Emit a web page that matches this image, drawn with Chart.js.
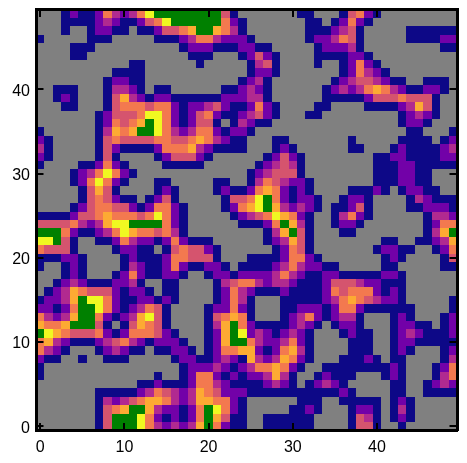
<!DOCTYPE html>
<html><head><meta charset="utf-8">
<style>html,body{margin:0;padding:0;background:#fff}canvas{display:block}</style>
<script src="https://cdn.jsdelivr.net/npm/chart.js@4"></script>
</head><body>
<div style="width:467px;height:463px"><canvas id="c" width="467" height="463"></canvas></div>
<script>
// Level codes per cell, top row is y = 49, left column is x = 0
const rows = [
"GGGnp nnpom pmoyg ggggg ggrnG GGGGG GnnGG Gnrop nGGGG GGGGG",
"GGGnn nnpmp nnpro ygggg ggopn GGGGG GGnnG npopn GGGGG GGGGG",
"GGGnG Gnppn nGnnp rroag gaomn GGGGG GGnnn pmrnG GGGGn nnnnn",
"nGGGG GnnnG GGGGn nnpmo omppp nGGGG GGnpp mornG GGGGn nnnpp",
"GGGGn nnGGG GGGGG GGnpp pnnnp pnnGG GGGnp ppmnG GGGGG GGGnn",
"GGGGn nGGGG GGGGG GGGnn nGGGn prpnG GGGnn nnppn GGGGG GGGGG",
"GGGGG GGGGG GnnGG GGGGn GGGGG nmrnG GGGnG Gnpop nGGGG GGGGG",
"GGGGG GGGGn nnnGG GGGGG GGGGG nppnG GGGGG Gnpom pnGGG GGGGG",
"GGGGG GGGnp pnnGG GGGGG GGGGn pmnGG GGGGG npmrr mpnnG GnnnG",
"GGnnn GGGnm mpnGn nGGGG GGnnp mpnGG GGGGn pmpmo aompn nppnG",
"GGnpn GGGnr ampnp pnnnn nnppp mmnGG GGGGn nnnnp rrror rrnGG",
"GGGnn GGGnr oooro opnpp mrpnn popnG GGGnn GGGGn nnnpm arnGG",
"GGGGG GGnpr rroyy opnpr opnnp mrpnG GGnnG GGGGG GGGnp mpnGG",
"GGGGG GGnpo roagy opnpr rnGnm pnnGG GGGGG GGGGG GGGnp pnGGG",
"nGGGG GGnma oaggy ompmo opnpp nGGGG GGGGG GGGGG GGGGn nGGGn",
"pnGGG GGnro rrrro orroa ompnn GGGnn GGGGG GGnGG GGGnn nnGnp",
"mnGGG GGnrp nnnnp oooam pnnnn GGGnp nGGGG GGnnG GGnpn nnnpm",
"pnGGG GGnrn GGGGn prrrp nGGGG GGnpr pnGGG GGGGG nnppn nnnpp",
"nGGGG nnpop nGGGG nnnnn GGGGG Gnpmr mnGGG GGGGG nnnpp nnnnn",
"GGGGn pmoyo pnGGG GGGGG GGGGG npmrr rnGGG GGGGG nnnpp nnGGG",
"GGGGn poyop nGGGn nGGGG GnnGG nmorm ppnGG GGGGG nnnpp nnGGG",
"GGGGG nrarn GGGGn pnGGG Gnpnn poaop npnGG GGnnn pnGnp pnnGG",
"GGGGG nrorp nnGnp rnGGG GGnrr oygop nppnG Gnppn GGGGn mpnnn",
"GGGGn proor rpnpo opnGG GGnpo aygam pmpnG nnprn GGGGn npppn",
"nnnnp rroao ooroy opnGG GGGnp mroya opnGG nmopn GGGGG Gnmmp",
"rrrro mpmay ygggg opnGG GGGGn nnpog amnGG nppnG GGGGG Gnpoo",
"gggop nnpmo yaoor omnGG GGGGG GGnma grnGG GnnGG GGGGG Gnmag",
"yygrn GGnnp omppn popnn nGGGG GGnpm arnGG GGGGG GnnGG nnpma",
"orrrn GGGGn ppnnG nrorr pnGGG GGGnp ornGG GGGGG nppnn GGnpo",
"nnnpp nGGGG npnnn poorr rnGGG nnnnp oopnG GGGGG GnpnG GGGnr",
"nGGnp nGGGG nmpnn popnn ppnGn nnnpm omppn nGGGG GnnGG GGGnn",
"GGGnp nGGGn popnn ppnGG nppnp pppmo mpnnp pnnnn nppnG GGGGG",
"GGnpm pnnnp pmnGG nnGGG Gnmro ompmm pnnnp rrrmp pnnnG GGGGG",
"Gnpma orrrp nppnG nnGGG Gnpom pnnnp nnnnp orooo pnpnG GGGGG",
"nppma gyyop nnppn pnGGG Gnpom nGGGn nnnnp moaor mppnG GGGGn",
"ppnpo ggyop npmor nGGGG nppop nGGGn npppn poopn nnnnn GGGGn",
"ompma ggopn pmayr nGGGG nroao nGGGn pmopn pmmnG GGnpn GGGnp",
"aooag ggrnG nraor nGGGG nmago pnnnn pmpnG nppnG GGnpp nnGnp",
"gyaor rropn pooor pnGGG npagy pmpnp mpnGG Gnpnn GGnpm pnnnp",
"oampn nnpmr ompnp ppnGG npagg omppm opnGG GGnnn GGnpp nnnnn",
"ompnG GGnpm pnnGn nppnG npooa apnpo amnGG GGnnn GGnpn GGGnp",
"pnnGG nGGnn nGGGG Gnppn npmpn ampma opnGG Gnnnp nGnnG GGGnm",
"nGGGG GGGGG GGGGG GGnpp pmpnp mooao pnGGn nnnnn nnpnG GGnpo",
"nGGGG GGGGG GGGGn GGnpo opnpn ppmam nGGnp nnnGG GnpnG GGnmo",
"GGGGG GGGGG GGnnp nnnpo ompnn nnpmp nGnpm pnGGG GGnnG Gnpmp",
"GGGGG GGnnn nnpmo rmpma orppp nnnnn nnnnn npnGG GGnnG Gnnnn",
"GGGGG GGnmp mroaa ompma aoopn GGGGG GnnnG Gnnnn nGnpn GGGGG",
"GGGGG GGnro aggam ppnpo gyopn GGGGG nnpnG GGnpp nGnmn GGGGG",
"GGGGG GGnrg ggyop npnpo garnn GGnnn nnnGG GGnrm nGnpn GGGGG",
"GGGGG GGnrg ggyom pmpma gopnn GGnnn nnnGG GGnrr nGGnG GGGGG"
];
const levelCodes  = ["G","n","p","m","r","o","a","y","g"];
const levelColors = ["#808080","#0d0887","#7201a8","#b12a90","#d5546e","#f3794f","#fdaa33","#f0f921","#008000"];
const tickValues  = [0,10,20,30,40];

const cols = Array.from({length:50},(_,i)=>i);
const grid = rows.map(s=>s.replace(/ /g,""));
const datasets = grid.map((row,r)=>{
  const yv = 49-r;
  return {
    xAxisID:'x', yAxisID:'y',
    data: cols.map(()=>[yv-0.5,yv+0.5]),
    backgroundColor: cols.map(c=>levelColors[Math.max(0,levelCodes.indexOf(row[c]))]),
    barPercentage:1, categoryPercentage:1, grouped:false, borderWidth:0, inflateAmount:0
  };
});
const L=36,R=457,T=9.5,B=430.5,W=467,H=463;
const TICK_LEN=7.5, TICK_W=2;
const setTicks = s=>{ s.ticks = tickValues.map(v=>({value:v})); };
const fitX = h=>s=>{ s.height=h; s.paddingLeft=0; s.paddingRight=0; };
const fitY = w=>s=>{ s.width=w; s.paddingTop=0; s.paddingBottom=0; };
const gridOpt = {display:false,offset:false,drawOnChartArea:false,drawTicks:false};
const borderOpt = {display:true,width:3,color:'#000',z:2};
const labelFont = {family:'"Liberation Sans", Arial, sans-serif',size:16};
const snap = v=>Math.round(Math.round(v*1000)/1000);
// Snap bar edges to whole pixels so neighbouring cells meet without seams
const snapCells = {
  id:'snapCells',
  afterDatasetsUpdate(chart){
    chart.getSortedVisibleDatasetMetas().forEach(meta=>{
      meta.data.forEach(el=>{
        const l=snap(el.x-el.width/2), r=snap(el.x+el.width/2);
        el.x=(l+r)/2; el.width=r-l;
        el.y=snap(el.y); el.base=snap(el.base);
      });
    });
  }
};
// Inward tick marks on all four sides, placed by the chart's scales
const inwardTicks = {
  id:'inwardTicks',
  afterDraw(chart){
    const {ctx,chartArea:a,scales:{x,y}}=chart;
    ctx.save();
    ctx.strokeStyle='#000'; ctx.lineWidth=TICK_W; ctx.beginPath();
    tickValues.forEach(v=>{
      const px=Math.round(x.getPixelForValue(v)), py=Math.round(y.getPixelForValue(v));
      ctx.moveTo(px,a.top); ctx.lineTo(px,a.top+TICK_LEN);
      ctx.moveTo(px,a.bottom); ctx.lineTo(px,a.bottom-TICK_LEN);
      ctx.moveTo(a.left,py); ctx.lineTo(a.left+TICK_LEN,py);
      ctx.moveTo(a.right,py); ctx.lineTo(a.right-TICK_LEN,py);
    });
    ctx.stroke(); ctx.restore();
  }
};
new Chart(document.getElementById('c'),{
  type:'bar',
  data:{labels:cols,datasets},
  plugins:[snapCells,inwardTicks],
  options:{
    responsive:false,animation:false,events:[],
    layout:{padding:0},
    plugins:{legend:{display:false},tooltip:{enabled:false},title:{display:false}},
    scales:{
      x:{type:'linear',position:'bottom',min:-0.5,max:49.5,offset:false,afterBuildTicks:setTicks,afterFit:fitX(H-B),
         grid:gridOpt,border:borderOpt,
         ticks:{color:'#000',font:labelFont,padding:7,maxRotation:0,autoSkip:false,callback:v=>String(v),z:2}},
      x2:{type:'linear',position:'top',min:-0.5,max:49.5,offset:false,afterBuildTicks:setTicks,afterFit:fitX(T),
         grid:gridOpt,border:borderOpt,ticks:{display:false}},
      y:{type:'linear',position:'left',min:-0.5,max:49.5,afterBuildTicks:setTicks,afterFit:fitY(L),
         grid:gridOpt,border:borderOpt,
         ticks:{color:'#000',font:labelFont,padding:6,labelOffset:2,autoSkip:false,callback:v=>String(v),z:2}},
      y2:{type:'linear',position:'right',min:-0.5,max:49.5,afterBuildTicks:setTicks,afterFit:fitY(W-R),
         grid:gridOpt,border:borderOpt,ticks:{display:false}}
    }
  }
});
</script>
</body></html>
